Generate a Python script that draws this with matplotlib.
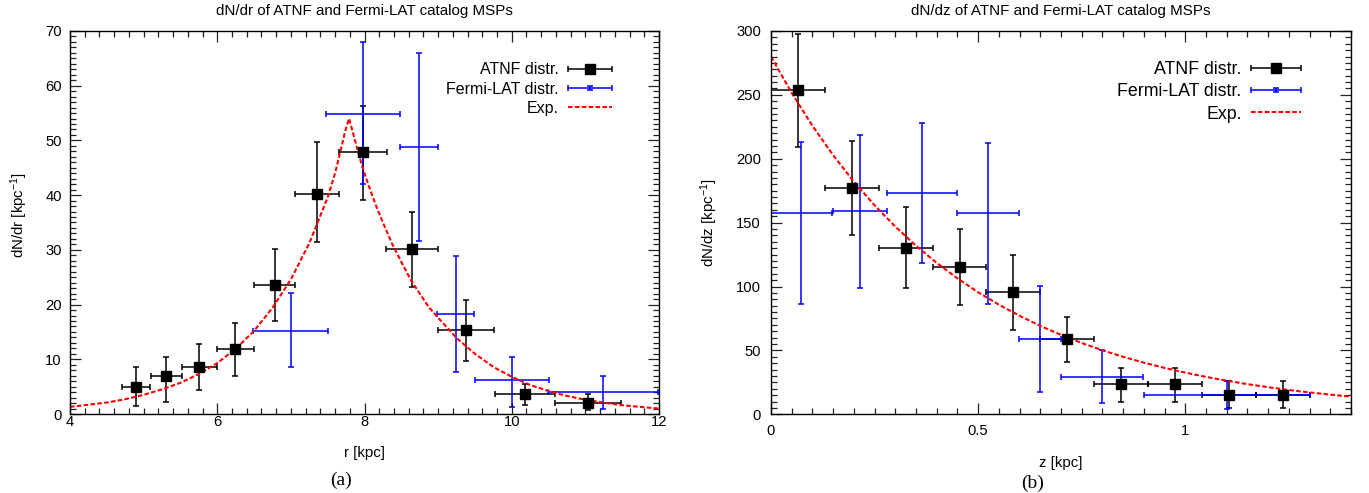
"""
dN/dr and dN/dz of ATNF and Fermi-LAT catalog MSPs, with the exponential model
drawn over the binned counts. Values are read off the published figure.
"""
import matplotlib
matplotlib.use("Agg")
import matplotlib.pyplot as plt
import numpy as np
from matplotlib.container import ErrorbarContainer
from matplotlib.legend_handler import HandlerErrorbar
from matplotlib.ticker import FormatStrFormatter, MultipleLocator

plt.rcParams["font.family"] = ["Liberation Sans", "DejaVu Sans"]
plt.rcParams["mathtext.fontset"] = "custom"
plt.rcParams["mathtext.rm"] = "Liberation Sans"
plt.rcParams["mathtext.default"] = "regular"

# --- (a) radial distribution -------------------------------------------------
atnf_r = [4.895, 5.31, 5.757, 6.245, 6.778, 7.35, 7.975, 8.65, 9.385, 10.18, 11.04]
atnf_r_halfwidth = [0.195, 0.215, 0.233, 0.255, 0.278, 0.297, 0.325, 0.352, 0.38, 0.41, 0.45]
atnf_r_val = [5.0, 6.9, 8.5, 11.8, 23.5, 40.2, 47.8, 30.1, 15.3, 3.6, 2.1]
atnf_r_lo = [1.4, 2.2, 4.3, 7.0, 17.0, 31.4, 39.1, 23.2, 9.6, 1.6, 0.7]
atnf_r_hi = [8.6, 10.5, 12.85, 16.6, 30.1, 49.8, 56.3, 37.0, 20.8, 5.5, 3.7]

fermi_r = [6.996, 7.98, 8.74, 9.24, 10.0, 11.24]
fermi_r_halfwidth = [0.505, 0.50, 0.255, 0.25, 0.50, 0.75]
fermi_r_val = [15.2, 54.8, 48.8, 18.3, 6.2, 4.1]
fermi_r_lo = [8.5, 42.0, 31.6, 7.7, 1.3, 1.0]
fermi_r_hi = [22.1, 67.9, 66.0, 28.9, 10.4, 6.9]

exp_r = [4.0, 4.25, 4.5, 4.75, 5.0, 5.25, 5.5, 5.75, 6.0, 6.25, 6.5, 6.75, 7.0,
         7.125, 7.25, 7.375, 7.5, 7.6, 7.68, 7.74, 7.79, 7.84, 7.9, 7.97, 8.05,
         8.15, 8.25, 8.375, 8.5, 8.625, 8.75, 8.875, 9.0, 9.25, 9.5, 9.75, 10.0,
         10.25, 10.5, 10.75, 11.0, 11.25, 11.5, 11.75, 12.0]
exp_r_val = [1.3, 1.7, 2.1, 2.7, 3.5, 4.5, 5.7, 7.3, 9.3, 11.9, 15.2, 19.4, 24.6,
             27.9, 31.2, 35.4, 39.6, 44.0, 48.4, 51.8, 54.0, 51.6, 48.5, 45.2, 42.0,
             38.3, 35.0, 31.1, 27.8, 24.6, 22.0, 19.5, 17.6, 13.9, 11.0, 8.6, 6.8,
             5.3, 4.2, 3.3, 2.6, 2.07, 1.6, 1.29, 1.0]

# --- (b) vertical distribution -----------------------------------------------
atnf_z = [0.065, 0.195, 0.325, 0.455, 0.585, 0.715, 0.845, 0.975, 1.105, 1.235]
atnf_z_halfwidth = [0.065] * 10
atnf_z_val = [253.6, 176.9, 130.4, 115.5, 95.4, 58.7, 23.5, 23.5, 15.1, 15.1]
atnf_z_lo = [209.5, 140.1, 99.1, 85.5, 65.7, 41.2, 9.9, 9.9, 4.7, 4.7]
atnf_z_hi = [297.9, 213.6, 162.2, 145.0, 124.9, 75.9, 36.5, 36.5, 26.1, 26.4]

fermi_z = [0.073, 0.214, 0.364, 0.524, 0.649, 0.799, 1.10]
fermi_z_halfwidth = [0.075, 0.065, 0.085, 0.075, 0.05, 0.10, 0.20]
fermi_z_val = [157.3, 158.9, 173.4, 157.3, 58.7, 29.4, 15.1]
fermi_z_lo = [86.1, 98.8, 118.6, 86.1, 17.7, 9.1, 3.9]
fermi_z_hi = [212.9, 218.8, 228.2, 212.5, 100.6, 50.3, 26.1]

exp_z = [0.0, 0.05, 0.1, 0.15, 0.2, 0.25, 0.3, 0.35, 0.4, 0.45, 0.5, 0.55, 0.6,
         0.65, 0.7, 0.75, 0.8, 0.85, 0.9, 0.95, 1.0, 1.05, 1.1, 1.15, 1.2, 1.25,
         1.3, 1.35, 1.4]
exp_z_val = [280.0, 251.5, 225.8, 202.8, 182.1, 163.6, 146.9, 131.9, 118.5, 106.4,
             95.5, 85.8, 77.1, 69.2, 62.2, 55.8, 50.1, 45.0, 40.4, 36.3, 32.6, 29.3,
             26.3, 23.6, 21.2, 19.0, 17.1, 15.4, 13.8]


def _yerr(val, lo, hi):
    val = np.asarray(val)
    return [val - np.asarray(lo), np.asarray(hi) - val]


def draw_panel(ax, atnf, fermi, model, legend_size, legend_anchor, spacing):
    x, hw, val, lo, hi = atnf
    atnf_bars = ax.errorbar(x, val, xerr=hw, yerr=_yerr(val, lo, hi), fmt="s",
                            color="black", ms=6.5, elinewidth=1.1, capsize=2.5,
                            capthick=1.1)
    x, hw, val, lo, hi = fermi
    fermi_bars = ax.errorbar(x, val, xerr=hw, yerr=_yerr(val, lo, hi), fmt="none",
                             ecolor="#0000ff", elinewidth=1.1, capsize=2.5, capthick=1.1)
    line, = ax.plot(model[0], model[1], color="#ff0000", lw=1.5)
    line.set_dashes((2.2, 1.1))

    handlelength = 2.8
    ax.legend([atnf_bars, fermi_bars, line], ["ATNF distr.", "Fermi-LAT distr.", "Exp."],
              loc="upper right", bbox_to_anchor=legend_anchor, fontsize=legend_size,
              frameon=False, markerfirst=False, handlelength=handlelength,
              handletextpad=0.55, labelspacing=spacing, borderpad=0, borderaxespad=0,
              handler_map={ErrorbarContainer: HandlerErrorbar(xerr_size=handlelength / 2,
                                                              yerr_size=0.14)})


def style_axes(ax, xmaj, xmin, ymaj, ymin, xpad, ypad):
    ax.xaxis.set_major_locator(MultipleLocator(xmaj))
    ax.xaxis.set_minor_locator(MultipleLocator(xmin))
    ax.yaxis.set_major_locator(MultipleLocator(ymaj))
    ax.yaxis.set_minor_locator(MultipleLocator(ymin))
    ax.xaxis.set_major_formatter(FormatStrFormatter("%g"))
    ax.yaxis.set_major_formatter(FormatStrFormatter("%g"))
    ax.tick_params(which="both", direction="in", top=True, right=True, width=0.9,
                   labelsize=10.6, color="#222222")
    ax.tick_params(which="major", length=8)
    ax.tick_params(which="minor", length=4)
    ax.tick_params(axis="x", pad=xpad)
    ax.tick_params(axis="y", pad=ypad)
    for spine in ax.spines.values():
        spine.set_linewidth(1.0)


fig = plt.figure(figsize=(13.69, 4.93), dpi=100)
W, H = 1369, 493

ax_a = fig.add_axes([70 / W, 79 / H, 589 / W, 383 / H])
draw_panel(ax_a,
           (atnf_r, atnf_r_halfwidth, atnf_r_val, atnf_r_lo, atnf_r_hi),
           (fermi_r, fermi_r_halfwidth, fermi_r_val, fermi_r_lo, fermi_r_hi),
           (exp_r, exp_r_val), legend_size=11.5, legend_anchor=(0.921, 0.918),
           spacing=0.26)
ax_a.set_xlim(4, 12)
ax_a.set_ylim(0, 70)
style_axes(ax_a, 2, 0.2, 10, 1, xpad=1.0, ypad=6.0)
ax_a.set_title("dN/dr of ATNF and Fermi-LAT catalog MSPs", fontsize=10.9, pad=11.5)
ax_a.set_xlabel("r [kpc]", fontsize=10.8, va="center")
ax_a.xaxis.set_label_coords(0.5, -0.102)
ax_a.set_ylabel("dN/dr [kpc$^{-1}$]", fontsize=10.8, va="center")
ax_a.yaxis.set_label_coords(-0.087, 0.52)

ax_b = fig.add_axes([771 / W, 78.7 / H, 580 / W, 383.3 / H])
draw_panel(ax_b,
           (atnf_z, atnf_z_halfwidth, atnf_z_val, atnf_z_lo, atnf_z_hi),
           (fermi_z, fermi_z_halfwidth, fermi_z_val, fermi_z_lo, fermi_z_hi),
           (exp_z, exp_z_val), legend_size=12.8, legend_anchor=(0.914, 0.922),
           spacing=0.3)
ax_b.set_xlim(0, 1.4)
ax_b.set_ylim(0, 300)
style_axes(ax_b, 0.5, 0.05, 50, 5, xpad=7.0, ypad=7.2)
ax_b.set_title("dN/dz of ATNF and Fermi-LAT catalog MSPs", fontsize=10.9, pad=11.5)
ax_b.set_xlabel("z [kpc]", fontsize=10.8, va="center")
ax_b.xaxis.set_label_coords(0.5, -0.127)
ax_b.set_ylabel("dN/dz [kpc$^{-1}$]", fontsize=10.8, va="center")
ax_b.yaxis.set_label_coords(-0.107, 0.5)

fig.text(341 / W, 1 - 480 / H, "(a)", family="Liberation Serif", fontsize=14,
         ha="center", va="center")
fig.text(1033 / W, 1 - 483 / H, "(b)", family="Liberation Serif", fontsize=14,
         ha="center", va="center")

fig.savefig("out.png", dpi=100)
plt.close(fig)
